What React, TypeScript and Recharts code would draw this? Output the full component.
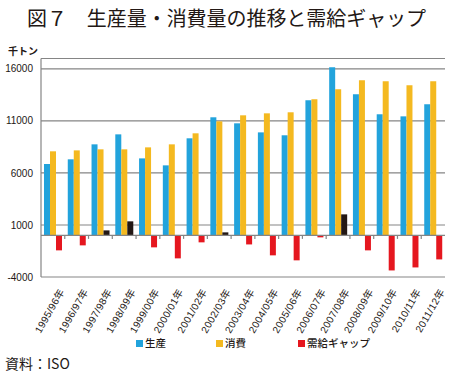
import React from "react"
import { BarChart, Bar, XAxis, YAxis, CartesianGrid, ReferenceLine, Cell } from "recharts"

const categories = [
    "1995/96年", "1996/97年", "1997/98年", "1998/99年", "1999/00年", "2000/01年",
    "2001/02年", "2002/03年", "2003/04年", "2004/05年", "2005/06年", "2006/07年",
    "2007/08年", "2008/09年", "2009/10年", "2010/11年", "2011/12年",
]
const production = [6860, 7310, 8750, 9710, 7400, 6730, 9330, 11350, 10770, 9900, 9620, 12980, 16150, 13560, 11640, 11440, 12600]
const consumption = [8080, 8170, 8270, 8270, 8460, 8750, 9810, 10960, 11540, 11730, 11830, 13080, 14040, 14900, 14810, 14420, 14810]
const gap = [-1440, -960, 480, 1350, -1150, -2210, -670, 290, -870, -1920, -2400, -190, 2020, -1440, -3370, -3080, -2310]
const yTicks = [-4000, 1000, 6000, 11000, 16000]

const BLUE = "#22a3dc"
const YELLOW = "#f4b920"
const RED = "#e5171f"
const BLACK = "#231815"
const GRID = "#858585"
const FONT = '"Liberation Sans", Arial, "Noto Sans CJK JP", sans-serif'
const JP = '"Noto Sans CJK JP", sans-serif'

const data = categories.map((name, i) => ({
    name,
    prod: production[i],
    cons: consumption[i],
    gap: gap[i],
}))

// rotated category labels
const XTick = (props: any) => {
    const { x, y, payload } = props
    return (
        <g transform={`translate(${x + 6},${y + 3})`}>
            <text x={0} y={0} dy={7} textAnchor="end" transform="rotate(-60)"
                fontSize={10} letterSpacing={0.35} fill={BLACK} style={{ fontFamily: FONT }}>
                {payload.value}
            </text>
        </g>
    )
}

// zero line with small marks at the category boundaries
const ZeroLine = (props: any) => {
    const { x1, x2, y1 } = props
    const n = categories.length
    const step = (x2 - x1) / n
    const marks = []
    for (let i = 1; i < n; i++) {
        const mx = x1 + step * i
        marks.push(<line key={i} x1={mx} x2={mx} y1={y1} y2={y1 + 3.5} stroke={GRID} strokeWidth={1.2} />)
    }
    return (
        <g>
            <line x1={x1} x2={x2} y1={y1} y2={y1} stroke={GRID} strokeWidth={1.4} />
            {marks}
        </g>
    )
}

const legendItems = [
    { label: "生産", color: BLUE, left: 136 },
    { label: "消費", color: YELLOW, left: 216 },
    { label: "需給ギャップ", color: RED, left: 298 },
]

export default function App() {
    return (
        <div style={{ position: "absolute", left: 0, top: 0, width: 451, height: 379, background: "#fff", color: BLACK }}>
            <div style={{ position: "absolute", left: 27, top: 7, fontSize: 20, lineHeight: "22px", fontFamily: JP, whiteSpace: "nowrap", letterSpacing: -0.05 }}>
                図７　生産量・消費量の推移と需給ギャップ
            </div>
            <div style={{ position: "absolute", left: 8, top: 45, fontSize: 10, lineHeight: "12px", fontFamily: JP, fontWeight: 700 }}>
                千トン
            </div>
            <BarChart
                width={451}
                height={379}
                data={data}
                barSize={6}
                barGap={0}
                margin={{ top: 58.5, right: 6, bottom: 52, left: 0 }}
            >
                <CartesianGrid vertical={false} stroke={GRID} strokeWidth={1.2} />
                <XAxis
                    dataKey="name"
                    axisLine={false}
                    tickLine={false}
                    interval={0}
                    height={50}
                    tick={<XTick />}
                />
                <YAxis
                    width={41}
                    domain={[-4000, 17000]}
                    ticks={yTicks}
                    interval={0}
                    tickLine={false}
                    axisLine={{ stroke: GRID, strokeWidth: 1.2 }}
                    tick={{ fill: BLACK, fontSize: 10, fontFamily: FONT }}
                />
                <Bar dataKey="prod" fill={BLUE} isAnimationActive={false} />
                <Bar dataKey="cons" fill={YELLOW} isAnimationActive={false} />
                <Bar dataKey="gap" fill={RED} isAnimationActive={false}>
                    {data.map((d, i) => (
                        <Cell key={`gap-${i}`} fill={d.gap >= 0 ? BLACK : RED} />
                    ))}
                </Bar>
                <ReferenceLine y={0} shape={<ZeroLine />} />
            </BarChart>
            {legendItems.map((it) => (
                <div key={it.label} style={{ position: "absolute", left: it.left, top: 337, display: "flex", alignItems: "center", fontFamily: JP, fontSize: 10.5, fontWeight: 500, lineHeight: "12px" }}>
                    <span style={{ display: "inline-block", width: 7, height: 7, background: it.color, marginRight: 2 }} />
                    {it.label}
                </div>
            ))}
            <div style={{ position: "absolute", left: 5, top: 354, fontSize: 14, lineHeight: "18px", fontFamily: JP }}>
                資料：ISO
            </div>
        </div>
    )
}
